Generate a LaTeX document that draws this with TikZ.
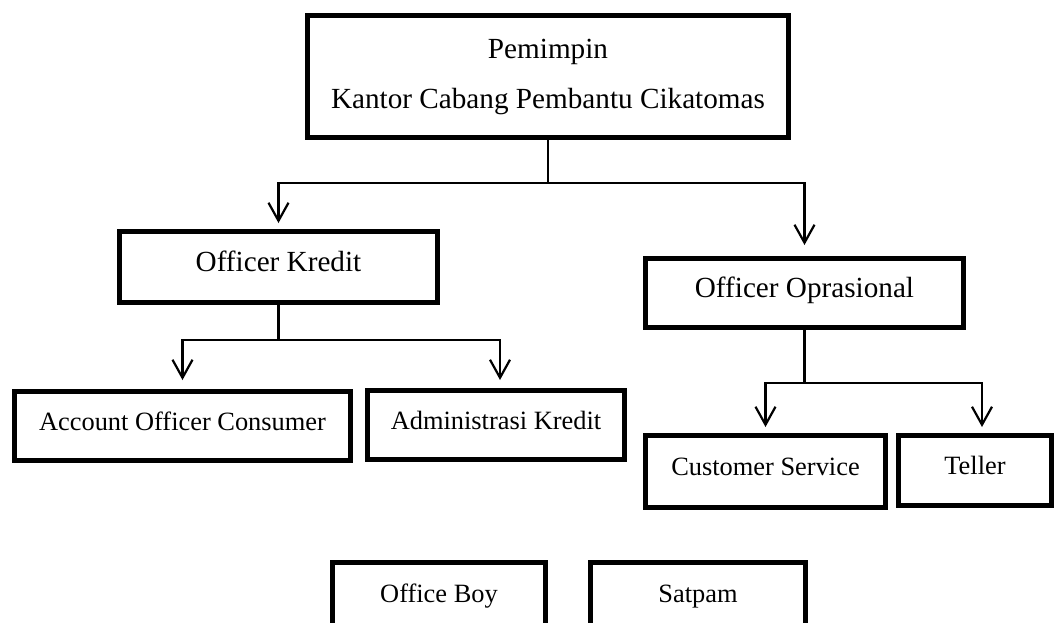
\documentclass[tikz,border=0pt]{standalone}
\usepackage{fontspec}
\setmainfont{Liberation Serif}
\usetikzlibrary{positioning, arrows.meta}

\tikzset{
  kotak/.style={draw=black, line width=2.5pt, inner sep=0pt},
  jabatan/.style={kotak, text height=9pt, text depth=5pt, font=\fontsize{13.2}{16}\selectfont},
  jabatan besar/.style={kotak, text height=10pt, text depth=5.5pt, font=\fontsize{14.6}{18}\selectfont},
  garis/.style={line width=1.1pt},
  panah/.style={garis, -{Straight Barb[length=9pt, width=10pt]}}
}

\begin{document}
\begin{tikzpicture}[x=0.5pt, y=-0.5pt]
  \useasboundingbox (0,0) rectangle (1056,622);

  \node[kotak, align=center, font=\fontsize{14.6}{25}\selectfont, minimum width=240.5pt, minimum height=61pt] (pemimpin) at (548,76.5) {Pemimpin\\Kantor Cabang Pembantu Cikatomas};

  \node[jabatan besar, minimum width=159pt, minimum height=35.5pt] (officer kredit) at (278.5,267) {Officer Kredit};
  \node[jabatan besar, minimum width=159pt, minimum height=34.5pt] (officer oprasional) at (804.5,293) {Officer Oprasional};

  \node[jabatan, minimum width=168pt, minimum height=34.5pt] (account officer) at (182.5,426) {Account Officer Consumer};
  \node[jabatan, minimum width=128.5pt, minimum height=34.5pt] (admin kredit) at (496,425) {Administrasi Kredit};
  \node[jabatan, minimum width=120pt, minimum height=36pt] (customer service) at (765.5,471.5) {Customer Service};
  \node[jabatan, minimum width=76.5pt, minimum height=35pt] (teller) at (975,470.5) {Teller};

  \node[jabatan, minimum width=106.5pt, minimum height=35.5pt] (office boy) at (439,598) {Office Boy};
  \node[jabatan, minimum width=107.5pt, minimum height=35.5pt] (satpam) at (698,598) {Satpam};

  \coordinate (cabang pemimpin) at (548,183);
  \coordinate (cabang kredit) at (278.5,340);
  \coordinate (cabang oprasional) at (804.5,383);

  \draw[garis] (pemimpin.south) -- (cabang pemimpin);
  \draw[panah, shorten >=3pt] (cabang pemimpin) -| (officer kredit.north);
  \draw[panah, shorten >=5.5pt] (cabang pemimpin) -| (officer oprasional.north);

  \draw[garis] (officer kredit.south) -- (cabang kredit);
  \draw[panah, shorten >=4.5pt] (cabang kredit) -| (account officer.north);
  \draw[panah, shorten >=4pt] (cabang kredit) -| ([xshift=2pt]admin kredit.north);

  \draw[garis] (officer oprasional.south) -- (cabang oprasional);
  \draw[panah, shorten >=3pt] (cabang oprasional) -| (customer service.north);
  \draw[panah, shorten >=3pt] (cabang oprasional) -| ([xshift=3.5pt]teller.north);
\end{tikzpicture}
\end{document}
